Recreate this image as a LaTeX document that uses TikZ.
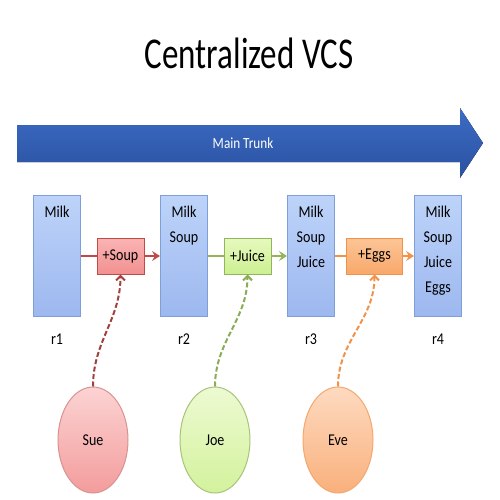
\documentclass[tikz,border=0pt]{standalone}
\usepackage{fontspec}
\setmainfont{Carlito}[FakeStretch=0.85]
\newfontfamily\titlefont{Carlito}[FakeStretch=0.75]
\usetikzlibrary{positioning,shapes.geometric,arrows.meta}

\definecolor{revtop}{HTML}{BDD3F9}
\definecolor{revbot}{HTML}{9DB8EF}
\definecolor{revline}{HTML}{7F9FD9}
\definecolor{souptop}{HTML}{FAB4B4}
\definecolor{soupbot}{HTML}{F29090}
\definecolor{soupline}{HTML}{BE4B48}
\definecolor{juicetop}{HTML}{E6F9BE}
\definecolor{juicebot}{HTML}{CDEF92}
\definecolor{juiceline}{HTML}{92B55A}
\definecolor{eggstop}{HTML}{FCC597}
\definecolor{eggsbot}{HTML}{F8A86A}
\definecolor{eggsline}{HTML}{F0924A}
\definecolor{suetop}{HTML}{FCD3D3}
\definecolor{suebot}{HTML}{F39C9C}
\definecolor{joetop}{HTML}{EDFAD2}
\definecolor{joebot}{HTML}{D3F29C}
\definecolor{evetop}{HTML}{FEDAC0}
\definecolor{evebot}{HTML}{F9B07C}
\definecolor{trunktop}{HTML}{3C6CC5}
\definecolor{trunkbot}{HTML}{2A51A0}

\begin{document}
\begin{tikzpicture}[x=1pt,y=1pt,node distance=127pt,on grid,
   >={Stealth[length=8pt,width=10pt,inset=3pt]},
   revbox/.style={rectangle,draw=revline,line width=1pt,top color=revtop,bottom color=revbot,
                  minimum width=47pt,minimum height=121pt,inner sep=0pt},
   revtext/.style={anchor=north,yshift=-11pt,align=center,inner sep=0pt,font=\fontsize{16.5}{25}\selectfont},
   revname/.style={anchor=north,yshift=-17pt,inner sep=0pt,font=\fontsize{16.5}{18}\selectfont},
   chgbox/.style={rectangle,line width=1pt,minimum width=47pt,minimum height=36pt,inner sep=0pt,
                  font=\fontsize{16.5}{18}\selectfont},
   person/.style={ellipse,line width=1pt,minimum width=70pt,minimum height=106pt,inner sep=0pt,
                  font=\fontsize{16.5}{18}\selectfont},
   solid link/.style={line width=2.8pt},
   dash link/.style={line width=2pt,dash pattern=on 5pt off 2.5pt,
                     -{Straight Barb[length=4.5pt,width=9pt]},out=90,in=-90}]
   \useasboundingbox (0,0) rectangle (500,-500);

   \node[font=\titlefont\fontsize{44}{50}\selectfont] (title) at (249,-53) {Centralized VCS};

   % main trunk
   \fill[top color=trunktop,bottom color=trunkbot]
     (17,-125) -- (460,-125) -- (460,-108) -- (483,-143) -- (460,-178) -- (460,-162) -- (17,-162) -- cycle;
   \node[text=white,font=\fontsize{15.5}{17}\selectfont] (trunk) at (243,-143) {Main Trunk};

   % revisions
   \node[revbox] (r1) at (57,-256) {};
   \node[revbox] (r2) [right=of r1] {};
   \node[revbox] (r3) [right=of r2] {};
   \node[revbox] (r4) [right=of r3] {};

   \node[revtext] (t1) at (r1.north) {Milk};
   \node[revtext] (t2) at (r2.north) {Milk\\Soup};
   \node[revtext] (t3) at (r3.north) {Milk\\Soup\\Juice};
   \node[revtext] (t4) at (r4.north) {Milk\\Soup\\Juice\\Eggs};

   \node[revname] (n1) at (r1.south) {r1};
   \node[revname] (n2) at (r2.south) {r2};
   \node[revname] (n3) at (r3.south) {r3};
   \node[revname] (n4) at (r4.south) {r4};

   % changes
   \node[chgbox,draw=soupline,top color=souptop,bottom color=soupbot] (soup) [right=63.5pt of r1] {+Soup};
   \node[chgbox,draw=juiceline,top color=juicetop,bottom color=juicebot] (juice) [right=63.5pt of r2] {+Juice};
   \node[chgbox,draw=eggsline,top color=eggstop,bottom color=eggsbot,minimum width=56pt] (eggs) [right=63.5pt of r3] {+Eggs};

   % people
   \node[person,draw=soupline!60,top color=suetop,bottom color=suebot] (sue) [below left=184pt and 27.5pt of soup] {Sue};
   \node[person,draw=juiceline!80,top color=joetop,bottom color=joebot] (joe) [below left=184pt and 32.5pt of juice] {Joe};
   \node[person,draw=eggsline!80,top color=evetop,bottom color=evebot] (eve) [below left=184pt and 36.5pt of eggs] {Eve};

   \path[solid link]
    (r1)    edge[soupline]     (soup)
    (soup)  edge[soupline,->]  (r2)
    (r2)    edge[juiceline]    (juice)
    (juice) edge[juiceline,->] (r3)
    (r3)    edge[eggsline]     (eggs)
    (eggs)  edge[eggsline,->]  (r4);

   \path[dash link]
    (sue) edge[soupline!85!black]  (soup)
    (joe) edge[juiceline!95!black] (juice)
    (eve) edge[eggsline]           (eggs);
\end{tikzpicture}
\end{document}
